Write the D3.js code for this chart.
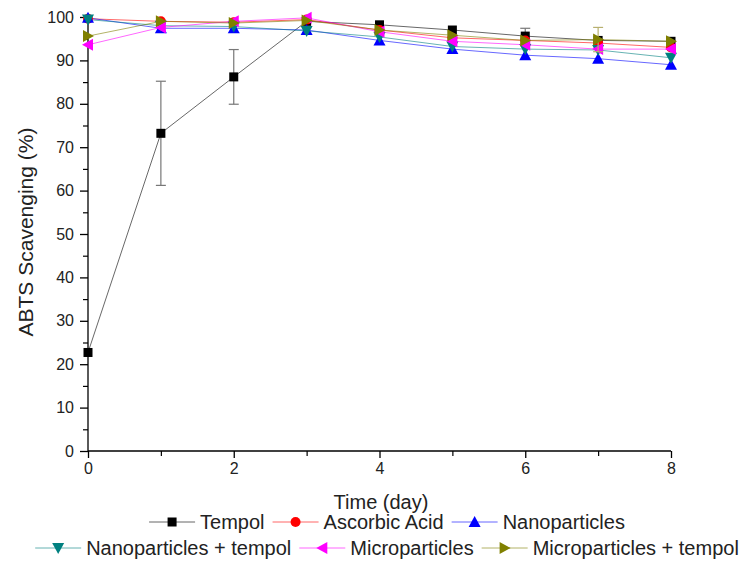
<!DOCTYPE html>
<html lang="en">
<head>
<meta charset="UTF-8">
<title>ABTS Scavenging</title>
<script src="https://cdn.jsdelivr.net/npm/d3@7"></script>
<style>
  body { margin: 0; background: #fff; }
  text { font-family: Arial, "Liberation Sans", sans-serif; }
</style>
</head>
<body>
<script>
// data
var days = [0, 1, 2, 3, 4, 5, 6, 7, 8];
var tempol = [22.7, 73.2, 86.2, 99.0, 98.2, 97.0, 95.6, 94.6, 94.4];
var tempolErr = [0.8, 12.0, 6.3, 0.5, 0.6, 0.6, 1.8, 0.8, 0.6];
var ascorbic = [99.6, 99.0, 98.8, 99.4, 97.0, 95.2, 94.6, 94.0, 93.0];
var nano = [99.8, 97.4, 97.4, 97.0, 94.6, 92.6, 91.2, 90.4, 89.0];
var nanoTempol = [99.4, 98.0, 97.8, 96.8, 95.4, 93.2, 92.6, 92.4, 90.6];
var micro = [93.6, 97.6, 99.0, 99.8, 96.6, 94.4, 93.6, 92.6, 92.6];
var microTempol = [95.6, 99.0, 98.6, 99.2, 97.0, 95.8, 94.6, 94.8, 94.4];
var microTempolErr = [0.5, 0.5, 0.5, 0.5, 0.5, 0.5, 0.5, 2.8, 0.8];

var yTicks = [0, 10, 20, 30, 40, 50, 60, 70, 80, 90, 100];
var xTicks = [0, 2, 4, 6, 8];

var series = [
  {name: "Tempol", values: tempol, err: tempolErr, color: "#000000", shape: "square"},
  {name: "Ascorbic Acid", values: ascorbic, err: null, color: "#ff0000", shape: "circle"},
  {name: "Nanoparticles", values: nano, err: null, color: "#0000ff", shape: "up"},
  {name: "Nanoparticles + tempol", values: nanoTempol, err: null, color: "#008080", shape: "down"},
  {name: "Microparticles", values: micro, err: null, color: "#ff00ff", shape: "left"},
  {name: "Microparticles + tempol", values: microTempol, err: microTempolErr, color: "#808000", shape: "right"}
];

var width = 752, height = 562;
var svg = d3.select("body").append("svg")
    .attr("width", width)
    .attr("height", height);

var x = d3.scaleLinear().domain([0, 8]).range([88, 671]);
var y = d3.scaleLinear().domain([0, 100]).range([451, 17]);

// 标记形状
function drawMarker(g, shape, cx, cy, color) {
  var s = 5;
  if (shape === "square") {
    g.append("rect").attr("x", cx - 4.5).attr("y", cy - 4.5)
      .attr("width", 9).attr("height", 9).attr("fill", color);
  } else if (shape === "circle") {
    g.append("circle").attr("cx", cx).attr("cy", cy).attr("r", 5).attr("fill", color);
  } else {
    var pts;
    if (shape === "up") pts = [[cx, cy - s - 1], [cx - s - 1, cy + s], [cx + s + 1, cy + s]];
    if (shape === "down") pts = [[cx, cy + s + 1], [cx - s - 1, cy - s], [cx + s + 1, cy - s]];
    if (shape === "left") pts = [[cx - s - 1, cy], [cx + s, cy - s - 1], [cx + s, cy + s + 1]];
    if (shape === "right") pts = [[cx + s + 1, cy], [cx - s, cy - s - 1], [cx - s, cy + s + 1]];
    g.append("polygon").attr("points", pts.map(function (p) { return p.join(","); }).join(" "))
      .attr("fill", color);
  }
}

// axes
var yAxis = d3.axisLeft(y).tickValues(yTicks).tickSize(8).tickPadding(6);
var gy = svg.append("g").attr("transform", "translate(88,0)").call(yAxis);
gy.select(".domain").attr("stroke", "#000").attr("stroke-width", 1.3).attr("d", "M0,451V17");
gy.selectAll(".tick line").attr("stroke-width", 1.3);
gy.selectAll("text").attr("font-size", 16).attr("fill", "#222");
svg.append("g").attr("transform", "translate(88,0)")
  .call(d3.axisLeft(y).tickValues([5, 15, 25, 35, 45, 55, 65, 75, 85, 95]).tickSize(5).tickFormat(""))
  .call(function (g) { g.select(".domain").remove(); g.selectAll("line").attr("stroke-width", 1.2); });

var xAxis = d3.axisBottom(x).tickValues(xTicks).tickSize(7).tickPadding(5);
var gx = svg.append("g").attr("transform", "translate(0,451)").call(xAxis);
gx.select(".domain").attr("stroke", "#000").attr("stroke-width", 1.3).attr("d", "M88,0H671");
gx.selectAll(".tick line").attr("stroke-width", 1.3);
gx.selectAll("text").attr("font-size", 16).attr("fill", "#222");
svg.append("g").attr("transform", "translate(0,451)")
  .call(d3.axisBottom(x).tickValues([1, 3, 5, 7]).tickSize(5).tickFormat(""))
  .call(function (g) { g.select(".domain").remove(); g.selectAll("line").attr("stroke-width", 1.2); });

svg.append("text")
  .attr("transform", "translate(33,232) rotate(-90)")
  .attr("text-anchor", "middle")
  .attr("font-size", 21)
  .attr("fill", "#222")
  .text("ABTS Scavenging (%)");

svg.append("text")
  .attr("x", 381).attr("y", 509)
  .attr("text-anchor", "middle")
  .attr("font-size", 20)
  .attr("fill", "#222")
  .text("Time (day)");

// lines, error bars, markers
var line = d3.line()
  .x(function (d, i) { return x(days[i]); })
  .y(function (d) { return y(d); });

series.forEach(function (s) {
  svg.append("path")
    .datum(s.values)
    .attr("d", line)
    .attr("fill", "none")
    .attr("stroke", s.color)
    .attr("stroke-opacity", 0.75)
    .attr("stroke-width", 0.8);
});

series.forEach(function (s) {
  var g = svg.append("g");
  if (s.err) {
    s.values.forEach(function (v, i) {
      var e = s.err[i];
      if (e < 1) return;
      var cx = x(days[i]);
      var col = s.shape === "square" ? "#777" : "#b8b070";
      g.append("line").attr("x1", cx).attr("x2", cx)
        .attr("y1", y(v - e)).attr("y2", y(v + e))
        .attr("stroke", col).attr("stroke-width", 1.2);
      [v - e, v + e].forEach(function (w) {
        g.append("line").attr("x1", cx - 5).attr("x2", cx + 5)
          .attr("y1", y(w)).attr("y2", y(w))
          .attr("stroke", col).attr("stroke-width", 1.2);
      });
    });
  }
  s.values.forEach(function (v, i) {
    drawMarker(g, s.shape, x(days[i]), y(v), s.color);
  });
});

// legend
var rows = [series.slice(0, 3), series.slice(3)];
var rowY = [522, 548];
rows.forEach(function (items, r) {
  var g = svg.append("g");
  var cur = 0;
  items.forEach(function (s) {
    var item = g.append("g").attr("transform", "translate(" + cur + ",0)");
    item.append("line").attr("x1", 0).attr("x2", 46).attr("y1", 0).attr("y2", 0)
      .attr("stroke", s.color).attr("stroke-opacity", 0.6).attr("stroke-width", 1);
    drawMarker(item, s.shape, 23, 0, s.color);
    var t = item.append("text").attr("x", 51).attr("y", 7)
      .attr("font-size", 20).attr("fill", "#222").text(s.name);
    cur += 51 + t.node().getComputedTextLength() + 8;
  });
  cur -= 8;
  g.attr("transform", "translate(" + (387 - cur / 2) + "," + rowY[r] + ")");
});
</script>
</body>
</html>
